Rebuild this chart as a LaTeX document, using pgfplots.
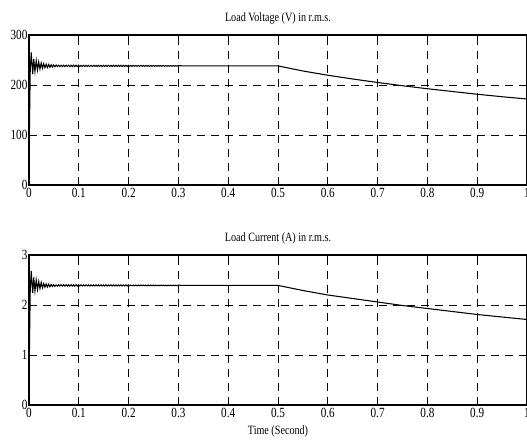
\documentclass[border=0pt]{standalone}
\usepackage{fontspec}
\setmainfont[FakeStretch=0.8]{Liberation Serif}
\usepackage{pgfplots}
\usepackage{pgfplotstable}
\pgfplotsset{compat=1.18}

% t (s), load voltage (V rms), load current (A rms)
\pgfplotstableread[row sep=\\]{
t v i \\
0 0 0 \\ 0.001 120 1.20 \\ 0.0025 230 2.30 \\ 0.0045 265 2.68 \\
0.0065 235 2.36 \\ 0.0075 222 2.24 \\ 0.0095 252 2.55 \\ 0.012 227 2.28 \\
0.0145 249 2.50 \\ 0.017 230 2.31 \\ 0.0195 246 2.47 \\ 0.022 232 2.33 \\
0.0245 244 2.45 \\ 0.027 233.5 2.345 \\ 0.0295 242.5 2.43 \\ 0.032 234.5 2.355 \\
0.0345 241.5 2.42 \\ 0.037 235 2.36 \\ 0.0395 241 2.415 \\ 0.042 235.5 2.365 \\
0.0445 240.5 2.41 \\ 0.047 236 2.37 \\ 0.0495 240 2.405 \\ 0.052 236.5 2.375 \\
0.0545 239.8 2.40 \\
0.057 236.8 2.378 \\ 0.0595 239.6 2.405 \\ 0.062 236.8 2.378 \\ 0.0645 239.6 2.405 \\
0.067 236.8 2.378 \\ 0.0695 239.6 2.405 \\ 0.072 236.8 2.378 \\ 0.0745 239.6 2.405 \\
0.077 236.8 2.378 \\ 0.0795 239.6 2.405 \\ 0.082 236.8 2.378 \\ 0.0845 239.6 2.405 \\
0.087 236.8 2.378 \\ 0.0895 239.6 2.405 \\ 0.092 236.8 2.378 \\ 0.0945 239.6 2.405 \\
0.097 236.8 2.378 \\ 0.0995 239.6 2.405 \\
0.102 237.1 2.381 \\ 0.1045 239.3 2.402 \\ 0.107 237.1 2.381 \\ 0.1095 239.3 2.402 \\
0.112 237.1 2.381 \\ 0.1145 239.3 2.402 \\ 0.117 237.1 2.381 \\ 0.1195 239.3 2.402 \\
0.122 237.1 2.381 \\ 0.1245 239.3 2.402 \\ 0.127 237.1 2.381 \\ 0.1295 239.3 2.402 \\
0.132 237.1 2.381 \\ 0.1345 239.3 2.402 \\ 0.137 237.1 2.381 \\ 0.1395 239.3 2.402 \\
0.142 237.1 2.381 \\ 0.1445 239.3 2.402 \\ 0.147 237.1 2.381 \\ 0.1495 239.3 2.402 \\
0.152 237.1 2.381 \\ 0.1545 239.3 2.402 \\ 0.157 237.1 2.381 \\ 0.1595 239.3 2.402 \\
0.162 237.1 2.381 \\ 0.1645 239.3 2.402 \\ 0.167 237.1 2.381 \\ 0.1695 239.3 2.402 \\
0.172 237.1 2.381 \\ 0.1745 239.3 2.402 \\ 0.177 237.1 2.381 \\ 0.1795 239.3 2.402 \\
0.182 237.1 2.381 \\ 0.1845 239.3 2.402 \\ 0.187 237.1 2.381 \\ 0.1895 239.3 2.402 \\
0.192 237.1 2.381 \\ 0.1945 239.3 2.402 \\ 0.197 237.1 2.381 \\ 0.1995 239.3 2.402 \\
0.202 237.4 2.384 \\ 0.2045 239.0 2.399 \\ 0.207 237.4 2.384 \\ 0.2095 239.0 2.399 \\
0.212 237.4 2.384 \\ 0.2145 239.0 2.399 \\ 0.217 237.4 2.384 \\ 0.2195 239.0 2.399 \\
0.222 237.4 2.384 \\ 0.2245 239.0 2.399 \\ 0.227 237.4 2.384 \\ 0.2295 239.0 2.399 \\
0.232 237.4 2.384 \\ 0.2345 239.0 2.399 \\ 0.237 237.4 2.384 \\ 0.2395 239.0 2.399 \\
0.242 237.4 2.384 \\ 0.2445 239.0 2.399 \\ 0.247 237.4 2.384 \\ 0.2495 239.0 2.399 \\
0.252 237.6 2.386 \\ 0.2545 238.8 2.397 \\ 0.257 237.6 2.386 \\ 0.2595 238.8 2.397 \\
0.262 237.6 2.386 \\ 0.2645 238.8 2.397 \\ 0.267 237.6 2.386 \\ 0.2695 238.8 2.397 \\
0.272 237.6 2.386 \\ 0.2745 238.8 2.397 \\ 0.277 237.6 2.386 \\ 0.2795 238.8 2.397 \\
0.282 237.6 2.386 \\ 0.2845 238.8 2.397 \\ 0.287 237.6 2.386 \\ 0.2895 238.8 2.397 \\
0.292 237.6 2.386 \\ 0.2945 238.8 2.397 \\ 0.297 237.6 2.386 \\ 0.2995 238.8 2.397 \\
0.31 238.2 2.392 \\ 0.4 238.2 2.392 \\ 0.5 238.2 2.392 \\
0.55 228 2.29 \\ 0.6 219.5 2.20 \\ 0.65 212 2.13 \\ 0.7 205 2.06 \\
0.75 198.5 1.99 \\ 0.8 192.5 1.93 \\ 0.85 187 1.87 \\ 0.9 181.5 1.81 \\
0.95 176.5 1.76 \\ 1.0 172 1.71 \\
}\loadtable

\pgfplotsset{
  every axis/.append style={
    scale only axis,
    width=373.5pt, height=112.5pt,
    xmin=0, xmax=1,
    xtick={0,0.1,...,1.0},
    grid=major,
    major grid style={black, dash pattern=on 6pt off 4.5pt, line width=0.5pt},
    axis line style={line width=0.9pt},
    tick style={black, line width=0.5pt},
    tick align=inside,
    major tick length=3pt,
    tick label style={font=\fontsize{10.5}{10.5}\selectfont},
    title style={font=\fontsize{9.5}{9.5}\selectfont, yshift=-1.5pt},
    label style={font=\fontsize{9.5}{9.5}\selectfont},
    xticklabel style={/pgf/number format/fixed, inner sep=2pt},
    yticklabel style={inner sep=1pt},
    /pgf/number format/assume math mode=true,
  },
}

\begin{document}
\begin{tikzpicture}
\begin{axis}[
  name=top,
  title={Load Voltage (V) in r.m.s.},
  ymin=0, ymax=300,
  ytick={0,100,200,300},
]
\addplot[black, line width=0.8pt] table[x=t, y=v] {\loadtable};
\end{axis}
\begin{axis}[
  name=bot,
  at={(0,-165pt)},
  title={Load Current (A) in r.m.s.},
  xlabel={Time (Second)},
  xlabel style={yshift=-1pt},
  ymin=0, ymax=3,
  ytick={0,1,2,3},
]
\addplot[black, line width=0.8pt] table[x=t, y=i] {\loadtable};
\end{axis}
\pgfresetboundingbox
\useasboundingbox ([xshift=-21.75pt,yshift=26.25pt]top.north west)
  rectangle ([yshift=-27pt]bot.south east);
\end{tikzpicture}
\end{document}
